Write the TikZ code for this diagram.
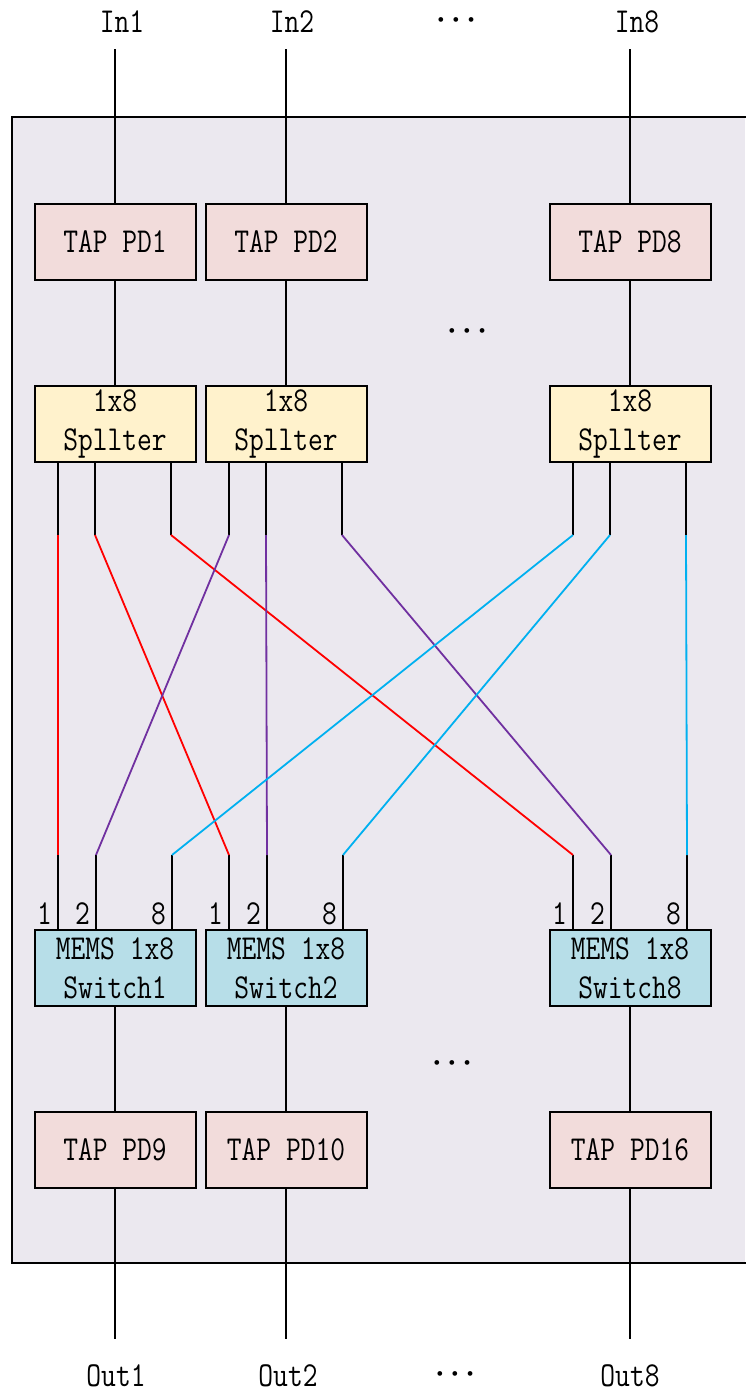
\documentclass[tikz,border=0pt]{standalone}
\usepackage{fontspec}
\usepackage{graphicx}
\newcommand\nar[1]{\scalebox{0.82}[1]{#1}}
\definecolor{panelbg}{HTML}{EBE8EF}
\definecolor{tapfill}{HTML}{F2DCDB}
\definecolor{splfill}{HTML}{FFF2CC}
\definecolor{swfill}{HTML}{B7DEE8}
\definecolor{redw}{HTML}{FF0000}
\definecolor{purw}{HTML}{7030A0}
\definecolor{cyaw}{HTML}{00B0F0}
\begin{document}
\begin{tikzpicture}[x=1pt,y=-1pt,
  txt/.style={font=\fontsize{35}{39}\selectfont\ttfamily},
  blk/.style={txt, draw=black, line width=2pt, minimum width=161pt, minimum height=76pt, inner sep=0pt, align=center},
  tapbox/.style={blk, fill=tapfill},
  splbox/.style={blk, fill=splfill},
  swbox/.style={blk, fill=swfill},
  lbl/.style={txt, inner sep=0pt},
  dotsl/.style={inner sep=0pt, font=\fontsize{21}{24}\selectfont},
  wire/.style={line width=2pt, black},
  rw/.style={line width=1.8pt, redw},
  pw/.style={line width=1.8pt, purw},
  cw/.style={line width=1.8pt, cyaw}]
\useasboundingbox (0,0) rectangle (745,1392);
\fill[white] (0,0) rectangle (745,1392);
% panel
\fill[panelbg] (12,117) rectangle (745,1263);
\draw[line width=2pt] (746,117) -- (12,117) -- (12,1263) -- (746,1263);

% input labels
\node[lbl] (in1) at (122,22) {\nar{In1}};
\node[lbl] (in2) at (292,22) {\nar{In2}};
\node[dotsl] (dtop) at (456,22) {\textbullet\textbullet\textbullet};
\node[lbl] (in8) at (637,22) {\nar{In8}};
\coordinate (in1e) at (115,49);
\coordinate (in2e) at (286,49);
\coordinate (in8e) at (630,49);

% boxes
\node[tapbox] (tap1) at (115,241.5) {\nar{TAP PD1}};
\node[tapbox] (tap2) at (286,241.5) {\nar{TAP PD2}};
\node[tapbox] (tap8) at (630,241.5) {\nar{TAP PD8}};
\node[dotsl] (dmid) at (467,333) {\textbullet\textbullet\textbullet};

\node[splbox] (spl1) at (115,423.5) {\nar{1x8}\\\nar{Spllter}};
\node[splbox] (spl2) at (286,423.5) {\nar{1x8}\\\nar{Spllter}};
\node[splbox] (spl8) at (630,423.5) {\nar{1x8}\\\nar{Spllter}};

\node[swbox] (sw1) at (115,968) {\nar{MEMS 1x8}\\\nar{Switch1}};
\node[swbox] (sw2) at (286,968) {\nar{MEMS 1x8}\\\nar{Switch2}};
\node[swbox] (sw8) at (630,968) {\nar{MEMS 1x8}\\\nar{Switch8}};
\node[dotsl] (dlow) at (452,1065) {\textbullet\textbullet\textbullet};

\node[tapbox] (tap9) at (115,1150) {\nar{TAP PD9}};
\node[tapbox] (tap10) at (286,1150) {\nar{TAP PD10}};
\node[tapbox] (tap16) at (630,1150) {\nar{TAP PD16}};

% output labels
\coordinate (out1e) at (115,1339);
\coordinate (out2e) at (286,1339);
\coordinate (out8e) at (630,1339);
\node[lbl] (out1) at (116,1376) {\nar{Out1}};
\node[lbl] (out2) at (288,1376) {\nar{Out2}};
\node[dotsl] (dbot) at (455,1376) {\textbullet\textbullet\textbullet};
\node[lbl] (out8) at (630,1376) {\nar{Out8}};

% vertical connectors
\draw[wire] (in1e) -- (tap1);
\draw[wire] (in2e) -- (tap2);
\draw[wire] (in8e) -- (tap8);
\draw[wire] (tap1) -- (spl1);
\draw[wire] (tap2) -- (spl2);
\draw[wire] (tap8) -- (spl8);
\draw[wire] (sw1) -- (tap9);
\draw[wire] (sw2) -- (tap10);
\draw[wire] (sw8) -- (tap16);
\draw[wire] (tap9) -- (out1e);
\draw[wire] (tap10) -- (out2e);
\draw[wire] (tap16) -- (out8e);

% splitter ports
\foreach \n in {spl1,spl2,spl8}{
  \foreach \d/\i in {-57/1,-20/2,56/8}{
    \coordinate (\n-\i) at ([xshift=\d pt]\n.south);
    \coordinate (\n-\i m) at ([xshift=\d pt,yshift=-72.5pt]\n.south);
    \draw[wire] (\n-\i) -- (\n-\i m);
  }}
% switch ports
\foreach \n in {sw1,sw2,sw8}{
  \foreach \d/\i in {-57/1,-19/2,57/8}{
    \coordinate (\n-\i) at ([xshift=\d pt]\n.north);
    \coordinate (\n-\i m) at ([xshift=\d pt,yshift=74pt]\n.north);
    \draw[wire] (\n-\i) -- (\n-\i m);
    \node[lbl, anchor=base east] (\n-l\i) at ([xshift=-6pt,yshift=5pt]\n-\i) {\nar{\i}};
  }}

% crossing fibres
\draw[rw] (spl1-1m) -- (sw1-1m);
\draw[rw] (spl1-2m) -- (sw2-1m);
\draw[rw] (spl1-8m) -- (sw8-1m);
\draw[pw] (spl2-1m) -- (sw1-2m);
\draw[pw] (spl2-2m) -- (sw2-2m);
\draw[pw] (spl2-8m) -- (sw8-2m);
\draw[cw] (spl8-1m) -- (sw1-8m);
\draw[cw] (spl8-2m) -- (sw2-8m);
\draw[cw] (spl8-8m) -- (sw8-8m);
\end{tikzpicture}
\end{document}
